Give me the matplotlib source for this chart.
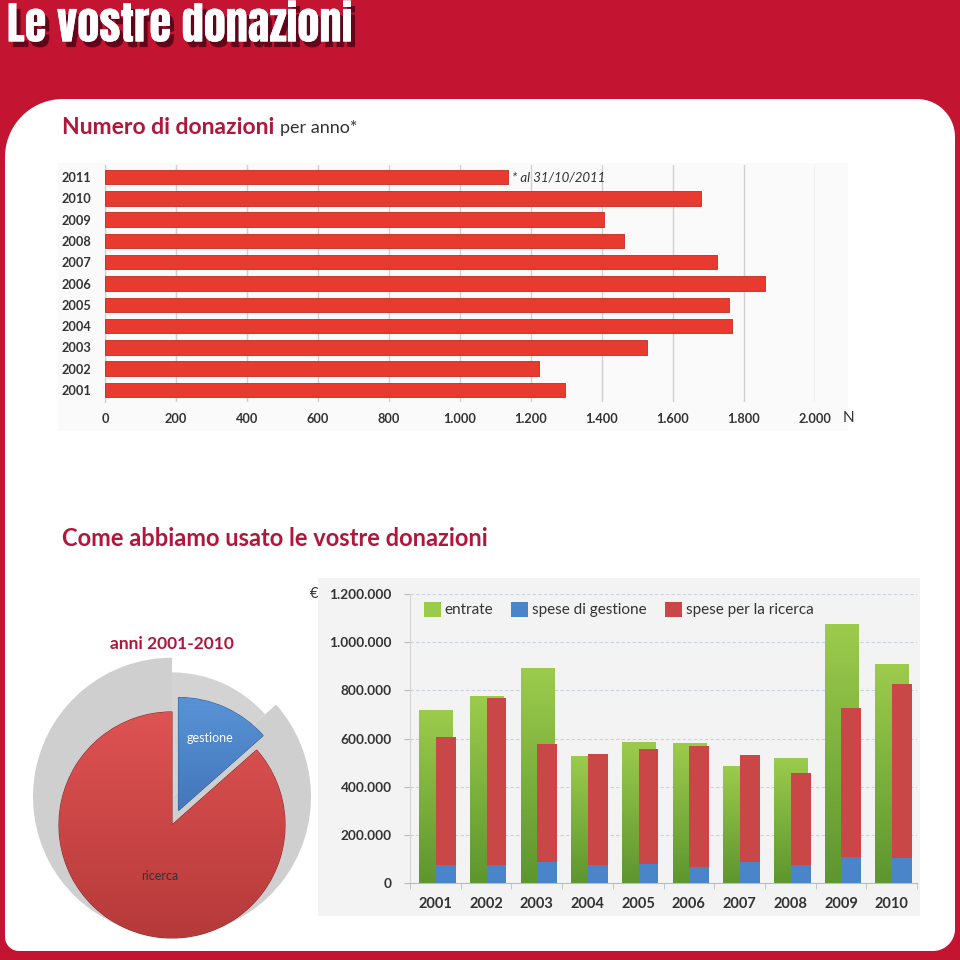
#!/usr/bin/env python3
"""
Infographic "Le vostre donazioni": donations per year (hbar),
pie of spending split and income vs spending columns 2001-2010.
Output: out.png (960x960)
"""
import numpy as np
import matplotlib
matplotlib.use("Agg")
import matplotlib.pyplot as plt
import matplotlib.patheffects as pe
from matplotlib.path import Path
from matplotlib.patches import PathPatch, Rectangle

# ---- data -------------------------------------------------------------
DON_YEARS = ["2001", "2002", "2003", "2004", "2005", "2006",
             "2007", "2008", "2009", "2010", "2011"]
DON_COUNT = [1296, 1223, 1527, 1766, 1758, 1859, 1724, 1462, 1406, 1679, 1135]
DON_TICKS = [0, 200, 400, 600, 800, 1000, 1200, 1400, 1600, 1800, 2000]

YEARS = ["2001", "2002", "2003", "2004", "2005",
         "2006", "2007", "2008", "2009", "2010"]
ENTRATE = [718000, 775000, 893000, 528000, 586000,
           580000, 486000, 521000, 1076000, 909000]
GESTIONE = [74000, 74000, 86000, 76000, 80000,
            67000, 86000, 74000, 108000, 104000]
SPESE_TOT = [607000, 767000, 579000, 537000, 558000,
             567000, 530000, 458000, 726000, 826000]
RICERCA = [t - g for t, g in zip(SPESE_TOT, GESTIONE)]
EUR_TICKS = [0, 200000, 400000, 600000, 800000, 1000000, 1200000]

PIE_LABELS = ["gestione", "ricerca"]
PIE_VALUES = [sum(GESTIONE), sum(RICERCA)]

# ---- style ------------------------------------------------------------
W = H = 960
BG_RED = "#C31432"
CRIMSON = "#B0173A"
TXT = "#333333"
BAR_RED = "#E63B2E"
GREEN_TOP, GREEN_BOT = "#9CCB4C", "#5E962F"
RED2 = "#C94747"
BLUE2 = "#4A85C9"
FONT = ["Lato", "DejaVu Sans"]

plt.rcParams["font.family"] = FONT


def fmt_it(v):
    return f"{v:,.0f}".replace(",", ".")


def px_axes(fig, x0, y0, x1, y1):
    return fig.add_axes([x0 / W, 1 - y1 / H, (x1 - x0) / W, (y1 - y0) / H])


def rounded_panel(x0, y0, x1, y1, r_tl, r_tr, r_br, r_bl):
    verts = []

    def arc(cx, cy, r, a0, a1):
        for a in np.linspace(np.radians(a0), np.radians(a1), 20):
            verts.append((cx + r * np.cos(a), cy + r * np.sin(a)))

    # y grows downward in the background axes
    arc(x0 + r_tl, y0 + r_tl, r_tl, 180, 270)
    arc(x1 - r_tr, y0 + r_tr, r_tr, 270, 360)
    arc(x1 - r_br, y1 - r_br, r_br, 0, 90)
    arc(x0 + r_bl, y1 - r_bl, r_bl, 90, 180)
    verts.append(verts[0])
    codes = [Path.MOVETO] + [Path.LINETO] * (len(verts) - 2) + [Path.CLOSEPOLY]
    return Path(verts, codes)


def gradient_fill(ax, patch, c_top, c_bot, extent):
    grad = np.linspace(1, 0, 64).reshape(-1, 1)
    cmap = matplotlib.colors.LinearSegmentedColormap.from_list("g", [c_bot, c_top])
    im = ax.imshow(grad, cmap=cmap, vmin=0, vmax=1, aspect="auto",
                   extent=extent, zorder=patch.get_zorder(),
                   interpolation="bilinear")
    im.set_clip_path(patch)
    patch.set_facecolor("none")


def main():
    fig = plt.figure(figsize=(W / 100, H / 100), dpi=100)
    fig.patch.set_facecolor(BG_RED)

    bg = fig.add_axes([0, 0, 1, 1])
    bg.set_xlim(0, W)
    bg.set_ylim(H, 0)
    bg.axis("off")
    bg.add_patch(PathPatch(rounded_panel(5, 99, 955, 951, 58, 38, 22, 14),
                           facecolor="white", edgecolor="none"))
    bg.add_patch(Rectangle((58, 163), 790, 268, facecolor="#FAFAFA",
                           edgecolor="none"))
    bg.add_patch(Rectangle((318, 578), 602, 338, facecolor="#F3F3F3",
                           edgecolor="none"))

    # ---- titles -------------------------------------------------------
    fig.text(7 / W, 1 - 25 / H, "Le vostre donazioni", color="white",
             fontsize=32, family=["Anton", "DejaVu Sans"],
             ha="left", va="center",
             path_effects=[pe.withSimplePatchShadow(offset=(3, -4),
                                                    shadow_rgbFace="#3a0010",
                                                    alpha=0.7),
                           pe.Normal()])
    t = fig.text(62 / W, 1 - 128 / H, "Numero di donazioni", color=CRIMSON,
                 fontsize=16.5, fontweight="bold", ha="left", va="center")
    fig.canvas.draw()
    bb = t.get_window_extent()
    fig.text(bb.x1 / W + 6 / W, 1 - 128 / H, "per anno*", color=TXT,
             fontsize=13, ha="left", va="center")
    fig.text(62 / W, 1 - 539 / H, "Come abbiamo usato le vostre donazioni",
             color=CRIMSON, fontsize=17, fontweight="bold",
             ha="left", va="center")

    # ---- donations per year -------------------------------------------
    ax1 = px_axes(fig, 105, 165.3, 815, 401.7)
    ax1.set_facecolor("none")
    ypos = np.arange(len(DON_YEARS))
    ax1.barh(ypos, DON_COUNT, height=0.68, color=BAR_RED,
             edgecolor="#C42A20", linewidth=0.6, zorder=3)
    ax1.set_xlim(0, 2000)
    ax1.set_ylim(-0.55, len(DON_YEARS) - 0.45)
    ax1.set_xticks(DON_TICKS)
    ax1.set_xticklabels([fmt_it(v) for v in DON_TICKS], fontsize=9.2,
                        fontweight="bold", color=TXT)
    ax1.set_yticks(ypos)
    ax1.set_yticklabels(DON_YEARS, fontsize=9.2, fontweight="bold", color=TXT)
    ax1.tick_params(axis="both", length=0)
    ax1.tick_params(axis="x", pad=8)
    ax1.tick_params(axis="y", pad=10)
    ax1.grid(axis="x", color="#D0D0D0", linewidth=1.0, zorder=0)
    for s in ["top", "right", "bottom"]:
        ax1.spines[s].set_visible(False)
    ax1.spines["left"].set_color("#CBCBCB")
    ax1.text(DON_COUNT[-1] + 12, ypos[-1], "* al 31/10/2011", fontsize=9.5,
             style="italic", color=TXT, va="center", ha="left")
    fig.text(843 / W, 1 - 418 / H, "N", fontsize=11, color=TXT,
             ha="left", va="center")

    # ---- income vs spending -------------------------------------------
    ax2 = px_axes(fig, 410, 594, 917, 883)
    ax2.set_facecolor("none")
    xs = np.arange(len(YEARS))
    green = ax2.bar(xs + 0.01, ENTRATE, width=0.66, color=GREEN_TOP,
                    label="entrate", zorder=2)
    for p in green:
        x, y = p.get_x(), p.get_y()
        gradient_fill(ax2, p, GREEN_TOP, GREEN_BOT,
                      (x, x + p.get_width(), y, y + p.get_height()))
    ax2.bar(xs + 0.205, GESTIONE, width=0.39, color=BLUE2,
            label="spese di gestione", zorder=3)
    ax2.bar(xs + 0.205, RICERCA, width=0.39, bottom=GESTIONE, color=RED2,
            label="spese per la ricerca", zorder=3)
    ax2.set_xlim(-0.5, len(YEARS) - 0.5)
    ax2.set_ylim(0, 1200000)
    ax2.set_yticks(EUR_TICKS)
    ax2.set_yticklabels([fmt_it(v) for v in EUR_TICKS], fontsize=9.8,
                        fontweight="bold", color=TXT)
    ax2.set_xticks(xs)
    ax2.set_xticklabels(YEARS, fontsize=10.5, fontweight="bold", color=TXT)
    ax2.set_xticks(np.arange(len(YEARS) + 1) - 0.5, minor=True)
    ax2.tick_params(axis="x", which="major", length=0, pad=10)
    ax2.tick_params(axis="x", which="minor", length=4, color="#BBBBBB")
    ax2.tick_params(axis="y", length=4, color="#BBBBBB", pad=9)
    ax2.grid(axis="y", color="#C9D3E0", linewidth=0.8, linestyle=(0, (3, 2)),
             zorder=0)
    for s in ["top", "right"]:
        ax2.spines[s].set_visible(False)
    ax2.spines["left"].set_color("#D5D5D5")
    ax2.spines["bottom"].set_color("#BBBBBB")
    h, l = ax2.get_legend_handles_labels()
    leg = ax2.legend(h, l, loc="upper left", bbox_to_anchor=(0.0, 1.02), ncol=3,
                     frameon=False, fontsize=11, handlelength=1.1,
                     handleheight=1.1, handletextpad=0.25, columnspacing=1.2)
    for txt in leg.get_texts():
        txt.set_color(TXT)
    leg.legend_handles[0].set_facecolor(GREEN_TOP)
    fig.text(314 / W, 1 - 594 / H, "€", fontsize=10.5, color=TXT,
             ha="center", va="center")

    # ---- pie ------------------------------------------------------------
    axp = px_axes(fig, 32, 655, 312, 945)
    axp.axis("off")
    shadow, _ = axp.pie(PIE_VALUES, startangle=90, counterclock=False,
                        explode=[0.0, 0], radius=1.23, center=(0, 0.25),
                        colors=["#D3D3D3", "#CFCFCF"],
                        wedgeprops=dict(linewidth=0))
    shadow[0].set_radius(1.1)
    for w in shadow:
        w.set_zorder(1)
    wedges, _ = axp.pie(PIE_VALUES, startangle=90, counterclock=False,
                        explode=[0.14, 0], radius=1.0,
                        colors=[BLUE2, "#D24646"],
                        wedgeprops=dict(linewidth=0.8, edgecolor="#8A2A2A"))
    wedges[0].set_edgecolor("#2F5F99")
    for w in wedges:
        w.set_zorder(3)
    gradient_fill(axp, wedges[1], "#E25555", "#B33737", (-1.2, 1.2, -1.2, 1.2))
    gradient_fill(axp, wedges[0], "#5C97DA", "#3C6EB2", (-0.2, 1.3, -0.2, 1.3))
    axp.set_xlim(-1.239, 1.239)
    axp.set_ylim(-1.062, 1.504)
    axp.set_aspect("auto")
    axp.text(0.34, 0.77, "gestione", color="white", fontsize=9,
             ha="center", va="center", zorder=5)
    axp.text(-0.11, -0.45, "ricerca", color=TXT, fontsize=9,
             ha="center", va="center", zorder=5)
    fig.text(172 / W, 1 - 644 / H, "anni 2001-2010", color=CRIMSON,
             fontsize=12.5, fontweight="bold", ha="center", va="center")

    fig.savefig("out.png", dpi=100, facecolor=fig.get_facecolor())


if __name__ == "__main__":
    main()
